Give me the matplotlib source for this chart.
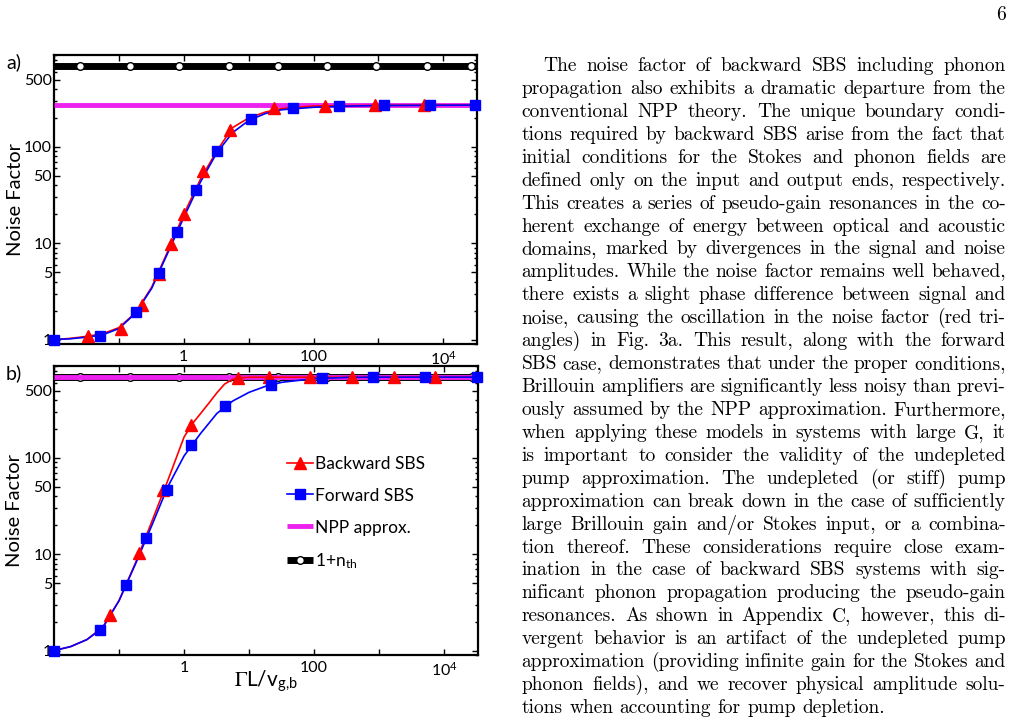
import numpy as np
import matplotlib
matplotlib.use('Agg')
import matplotlib.pyplot as plt
from matplotlib.ticker import FixedLocator, FixedFormatter, LogLocator, NullFormatter

plt.rcParams['font.family'] = ['Lato', 'DejaVu Sans']
plt.rcParams['mathtext.fontset'] = 'stix'

W, H = 1018, 721

# ---------------- data (x = Gamma L / v_g,b) ----------------
# curves, panel a)
a_x_curve = [0.01, 0.018, 0.032, 0.056, 0.1, 0.18, 0.32, 0.56, 1.0, 1.8, 3.2, 5.6,
             10, 18, 32, 100, 320, 1000, 33000]
a_back_curve = [1.0, 1.03, 1.08, 1.15, 1.33, 1.9, 3.5, 8.1, 20, 46, 90, 158,
                200, 230, 250, 266, 268, 270, 272]
a_fwd_curve = [1.0, 1.02, 1.06, 1.12, 1.3, 1.88, 3.4, 7.8, 18.5, 43, 86, 140,
               188, 222, 243, 258, 265, 269, 272]
# markers, panel a)
a_back_x = [0.034, 0.107, 0.23, 0.41, 0.63, 1.0, 2.0, 5.1, 25, 150, 870, 5100]
a_back_y = [1.08, 1.3, 2.3, 4.8, 9.8, 20, 56, 151, 251, 268, 270, 271]
a_fwd_x = [0.01, 0.051, 0.186, 0.41, 0.78, 1.55, 3.3, 10.7, 49, 250, 1230, 6300, 31000]
a_fwd_y = [1.0, 1.08, 1.92, 4.9, 13.2, 35.6, 91, 193, 251, 263, 270, 271, 272]
a_npp = 272

# curves, panel b)
b_back_x_curve = [0.01, 0.018, 0.032, 0.056, 0.1, 0.18, 0.32, 0.56, 1.0, 1.33, 1.8,
                  2.4, 3.2, 4.2, 5.6, 7.5, 10, 33000]
b_back_curve = [1.0, 1.1, 1.3, 1.75, 3.3, 8.2, 22, 58, 165, 225, 290,
                370, 475, 585, 655, 680, 688, 690]
b_fwd_x_curve = [0.01, 0.018, 0.032, 0.056, 0.1, 0.18, 0.32, 0.56, 1.0, 1.8, 3.2, 5.6,
                 10, 18, 32, 100, 320, 1000, 33000]
b_fwd_curve = [1.0, 1.1, 1.3, 1.72, 3.3, 8.0, 20, 50, 105, 180, 290, 390,
               480, 555, 610, 665, 685, 689, 690]
# markers, panel b)
b_back_x = [0.072, 0.2, 0.48, 1.28, 6.8, 20, 87, 380, 1660, 7100]
b_back_y = [2.32, 10.2, 47, 219, 675, 690, 690, 690, 690, 690]
b_fwd_x = [0.01, 0.051, 0.129, 0.26, 0.54, 1.28, 4.3, 22, 132, 810, 5100, 31600]
b_fwd_y = [1.0, 1.62, 4.78, 14.9, 46, 136, 343, 577, 668, 689, 690, 690]
b_npp = 690

# thermal line 1 + n_th (same in both panels)
nth = 690
nth_x = [0.025, 0.148, 0.84, 4.9, 28, 160, 930, 5500, 27000]

xlim = (0.01, 33000)
ylim = (0.9, 900)
xticks = [0.01, 0.1, 1, 10, 100, 1000, 10000]
xticklabels = ['', '', '1', '', '100', '', r'$\mathregular{10^4}$']
yticks = [1, 5, 10, 50, 100, 500]
yticklabels = ['1', '5', '10', '50', '100', '500']

page_lines = [
    "The noise factor of backward SBS including phonon",
    "propagation also exhibits a dramatic departure from the",
    "conventional NPP theory.  The unique boundary condi-",
    "tions required by backward SBS arise from the fact that",
    "initial conditions for the Stokes and phonon fields are",
    "defined only on the input and output ends, respectively.",
    "This creates a series of pseudo-gain resonances in the co-",
    "herent exchange of energy between optical and acoustic",
    "domains, marked by divergences in the signal and noise",
    "amplitudes. While the noise factor remains well behaved,",
    "there exists a slight phase difference between signal and",
    "noise, causing the oscillation in the noise factor (red tri-",
    "angles) in Fig.  3a.  This result, along with the forward",
    "SBS case, demonstrates that under the proper conditions,",
    "Brillouin amplifiers are significantly less noisy than previ-",
    "ously assumed by the NPP approximation. Furthermore,",
    "when applying these models in systems with large G, it",
    "is important to consider the validity of the undepleted",
    "pump approximation.  The undepleted (or stiff) pump",
    "approximation can break down in the case of sufficiently",
    "large Brillouin gain and/or Stokes input, or a combina-",
    "tion thereof.  These considerations require close exam-",
    "ination in the case of backward SBS systems with sig-",
    "nificant phonon propagation producing the pseudo-gain",
    "resonances.  As shown in Appendix C, however, this di-",
    "vergent behavior is an artifact of the undepleted pump",
    "approximation (providing infinite gain for the Stokes and",
    "phonon fields), and we recover physical amplitude solu-",
    "tions when accounting for pump depletion.",
]


def style_axis(ax):
    ax.set_xscale('log')
    ax.set_yscale('log')
    ax.set_xlim(*xlim)
    ax.set_ylim(*ylim)
    ax.xaxis.set_major_locator(FixedLocator(xticks))
    ax.xaxis.set_major_formatter(FixedFormatter(xticklabels))
    ax.xaxis.set_minor_locator(FixedLocator([]))
    ax.yaxis.set_major_locator(FixedLocator(yticks))
    ax.yaxis.set_major_formatter(FixedFormatter(yticklabels))
    ax.yaxis.set_minor_locator(LogLocator(base=10, subs=[2, 3, 4, 6, 7, 8, 9]))
    ax.yaxis.set_minor_formatter(NullFormatter())
    ax.tick_params(which='both', direction='in', top=True, right=True, width=1)
    ax.tick_params(which='major', length=4)
    ax.tick_params(which='minor', length=2.5)
    ax.tick_params(axis='x', pad=4, labelsize=11.5)
    ax.tick_params(axis='y', pad=1.5, labelsize=11.5)
    for s in ax.spines.values():
        s.set_linewidth(1.6)
    ax.set_ylabel('Noise Factor', fontsize=14.5)
    ax.yaxis.set_label_coords(-0.072, 0.5)


def draw_panel(ax, xb, back_curve, xf, fwd_curve, bx, by, fx, fy, npp):
    l_nth, = ax.plot(xlim, [nth, nth], color='black', lw=5, zorder=2, solid_capstyle='butt')
    m_nth, = ax.plot(nth_x, [nth] * len(nth_x), ls='none', marker='o', ms=5.5,
                     mfc='white', mec='black', mew=1, zorder=2.5)
    l_npp, = ax.plot(xlim, [npp, npp], color='#ee22ee', lw=3.5, zorder=3, solid_capstyle='butt')
    l_b, = ax.plot(xb, back_curve, color='red', lw=1.2, zorder=4)
    l_f, = ax.plot(xf, fwd_curve, color='#0000ff', lw=1.2, zorder=5)
    m_b, = ax.plot(bx, by, ls='none', marker='^', ms=8, color='red', zorder=6, clip_on=False)
    m_f, = ax.plot(fx, fy, ls='none', marker='s', ms=6.5, color='#0000ff', zorder=7, clip_on=False)
    return (l_b, m_b), (l_f, m_f), l_npp, (l_nth, m_nth)


fig = plt.figure(figsize=(W / 100, H / 100), dpi=100)
ax_a = fig.add_axes([54 / W, 1 - 344 / H, 423 / W, 289 / H])
ax_b = fig.add_axes([54 / W, 1 - 655 / H, 424 / W, 289 / H])

draw_panel(ax_a, a_x_curve, a_back_curve, a_x_curve, a_fwd_curve,
           a_back_x, a_back_y, a_fwd_x, a_fwd_y, a_npp)
handles = draw_panel(ax_b, b_back_x_curve, b_back_curve, b_fwd_x_curve, b_fwd_curve,
                     b_back_x, b_back_y, b_fwd_x, b_fwd_y, b_npp)
style_axis(ax_a)
style_axis(ax_b)

ax_b.set_xlabel(r'$\Gamma$L/v$_{\mathregular{g,\!b}}$', fontsize=15)
ax_b.xaxis.set_label_coords(0.5, -0.045)

ax_b.legend(handles, ['Backward SBS', 'Forward SBS', 'NPP approx.', r'1+n$_{\mathregular{th}}$'],
            loc='upper left', bbox_to_anchor=(0.55, 0.69), frameon=False, fontsize=12.5,
            handlelength=1.5, handletextpad=0.1, labelspacing=0.92, borderpad=0,
            borderaxespad=0, numpoints=1)

fig.text(6 / W, 1 - 62 / H, 'a)', fontsize=14, va='center', ha='left')
fig.text(6 / W, 1 - 373 / H, 'b)', fontsize=14, va='center', ha='left')

# ---------------- page text (justified) ----------------
serif = 'cmr10'
fs = 14
left, right, indent = 521.7, 1005.7, 543.3
base0, lead = 71, 22.93

fig.text(right / W, 1 - 20 / H, '6', family=serif, fontsize=fs, ha='right', va='baseline')

renderer = fig.canvas.get_renderer()


def width_of(s):
    t = fig.text(0, 0, s, family=serif, fontsize=fs)
    w = t.get_window_extent(renderer).width
    t.remove()
    return w


space_w = width_of('a b') - width_of('ab')

for i, line in enumerate(page_lines):
    words = line.split()
    x0 = indent if i == 0 else left
    y = base0 + i * lead
    widths = [width_of(w) for w in words]
    if i == len(page_lines) - 1:
        gap = space_w
    else:
        gap = (right - x0 - sum(widths)) / (len(words) - 1)
    x = x0
    for w, wd in zip(words, widths):
        fig.text(x / W, 1 - y / H, w, family=serif, fontsize=fs, ha='left', va='baseline')
        x += wd + gap

fig.savefig('out.png', dpi=100)
